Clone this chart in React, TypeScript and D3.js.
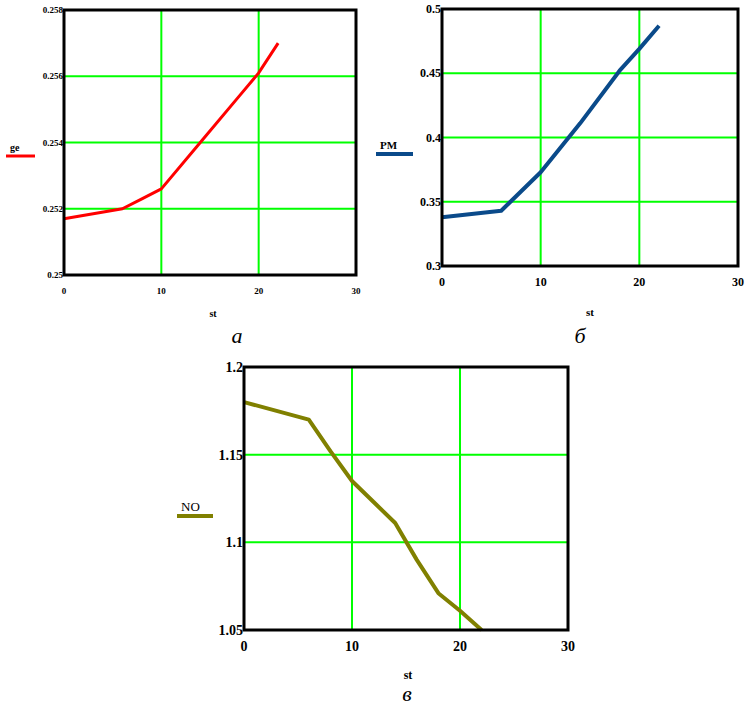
import React from "react";
import * as d3 from "d3";

// panel a: ge vs st
const geX = [0, 6, 8, 10, 14, 18, 20, 22];
const geY = [0.2517, 0.252, 0.2523, 0.2526, 0.254, 0.2554, 0.2561, 0.257];
const geTicks = [0.25, 0.252, 0.254, 0.256, 0.258];

// panel b: PM vs st
const pmX = [0, 6, 10, 14, 18, 20, 22];
const pmY = [0.338, 0.343, 0.373, 0.411, 0.452, 0.469, 0.487];
const pmTicks = [0.3, 0.35, 0.4, 0.45, 0.5];

// panel c: NO vs st
const noX = [0, 6, 8, 10, 12, 14, 16, 18, 20, 22];
const noY = [1.18, 1.17, 1.152, 1.135, 1.123, 1.111, 1.09, 1.071, 1.061, 1.05];
const noTicks = [1.05, 1.1, 1.15, 1.2];

const xTicks = [0, 10, 20, 30];

const serif = "'Liberation Serif', 'Times New Roman', serif";

type PanelProps = {
  box: { l: number; r: number; t: number; b: number };
  xs: number[];
  ys: number[];
  yTicks: number[];
  color: string;
  lineW: number;
  name: string;
  legend: { x: number; y: number; w: number; fs: number; bold: boolean };
  tickFs: number;
  xLabel: { x: number; y: number; text: string; fs: number };
  caption: { x: number; y: number; text: string };
};

function Panel(p: PanelProps) {
  const { box } = p;
  const x = d3.scaleLinear().domain([0, 30]).range([box.l, box.r]);
  const y = d3
    .scaleLinear()
    .domain([p.yTicks[0], p.yTicks[p.yTicks.length - 1]])
    .range([box.b, box.t]);
  const pts = p.xs.map((v, i) => [v, p.ys[i]] as [number, number]);
  const line = d3
    .line<[number, number]>()
    .x(d => x(d[0]))
    .y(d => y(d[1]));
  return (
    <g>
      {xTicks.slice(1, -1).map(t => (
        <line key={"gx" + t} x1={x(t)} x2={x(t)} y1={box.t} y2={box.b} stroke="#00ff00" strokeWidth={2} />
      ))}
      {p.yTicks.slice(1).map(t => (
        <line key={"gy" + t} x1={box.l} x2={box.r} y1={y(t)} y2={y(t)} stroke="#00ff00" strokeWidth={2} />
      ))}
      <path d={line(pts) || ""} fill="none" stroke={p.color} strokeWidth={p.lineW} strokeLinejoin="round" />
      <rect x={box.l} y={box.t} width={box.r - box.l} height={box.b - box.t} fill="none" stroke="#000" strokeWidth={3} />
      {p.yTicks.map(t => (
        <text
          key={"ty" + t}
          x={box.l - 1}
          y={y(t)}
          dy="0.35em"
          textAnchor="end"
          style={{ fontFamily: serif, fontSize: p.tickFs, fontWeight: "bold" }}
        >
          {String(t)}
        </text>
      ))}
      {xTicks.map(t => (
        <text
          key={"tx" + t}
          x={x(t)}
          y={box.b + 16}
          dy="0.35em"
          textAnchor="middle"
          style={{ fontFamily: serif, fontSize: p.tickFs, fontWeight: "bold" }}
        >
          {t}
        </text>
      ))}
      <text
        x={p.xLabel.x}
        y={p.xLabel.y}
        dy="0.35em"
        textAnchor="middle"
        style={{ fontFamily: serif, fontSize: p.xLabel.fs, fontWeight: "bold" }}
      >
        {p.xLabel.text}
      </text>
      <text
        x={p.legend.x + 4}
        y={p.legend.y - 5}
        style={{ fontFamily: serif, fontSize: p.legend.fs, fontWeight: p.legend.bold ? "bold" : "normal" }}
      >
        {p.name}
      </text>
      <line
        x1={p.legend.x}
        x2={p.legend.x + p.legend.w}
        y1={p.legend.y}
        y2={p.legend.y}
        stroke={p.color}
        strokeWidth={p.lineW}
      />
      <text
        x={p.caption.x}
        y={p.caption.y}
        dy="0.35em"
        textAnchor="middle"
        style={{ fontFamily: serif, fontSize: 22, fontStyle: "italic" }}
      >
        {p.caption.text}
      </text>
    </g>
  );
}

export default function App() {
  return (
    <svg width={751} height={709} style={{ position: "absolute", left: 0, top: 0, background: "#fff" }}>
      <Panel
        box={{ l: 64, r: 356, t: 10, b: 275 }}
        xs={geX}
        ys={geY}
        yTicks={geTicks}
        color="#ff0000"
        lineW={3}
        name="ge"
        legend={{ x: 6, y: 156, w: 29, fs: 10, bold: true }}
        tickFs={9}
        xLabel={{ x: 213, y: 313, text: "st", fs: 10 }}
        caption={{ x: 237, y: 335, text: "а" }}
      />
      <Panel
        box={{ l: 442, r: 738, t: 9, b: 266 }}
        xs={pmX}
        ys={pmY}
        yTicks={pmTicks}
        color="#0a4a8a"
        lineW={4}
        name="PM"
        legend={{ x: 376, y: 154, w: 37, fs: 11, bold: true }}
        tickFs={12}
        xLabel={{ x: 590, y: 312, text: "st", fs: 11 }}
        caption={{ x: 580, y: 335, text: "б" }}
      />
      <Panel
        box={{ l: 244, r: 568, t: 367, b: 630 }}
        xs={noX}
        ys={noY}
        yTicks={noTicks}
        color="#808000"
        lineW={4}
        name="NO"
        legend={{ x: 177, y: 516, w: 36, fs: 13, bold: false }}
        tickFs={14}
        xLabel={{ x: 408, y: 675, text: "st", fs: 12 }}
        caption={{ x: 407, y: 693, text: "в" }}
      />
    </svg>
  );
}
